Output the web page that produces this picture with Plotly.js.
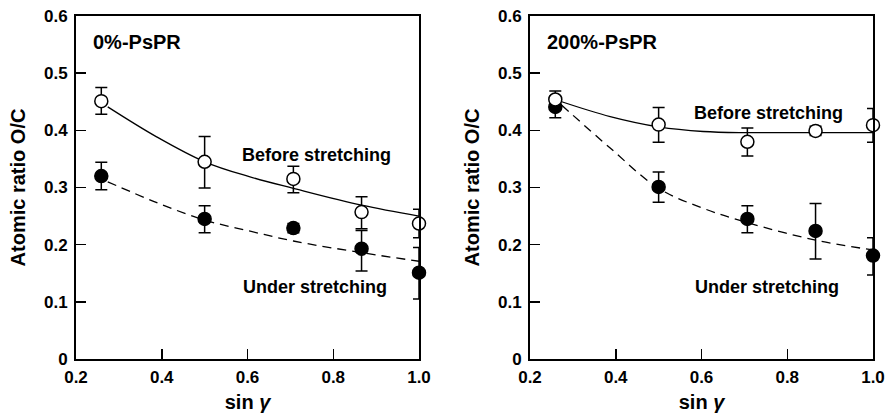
<!DOCTYPE html>
<html>
<head>
<meta charset="utf-8">
<script src="https://cdn.plot.ly/plotly-3.0.1.min.js"></script>
<style>html,body{margin:0;padding:0;background:#fff;}#chart{width:887px;height:418px;}</style>
</head>
<body>
<div id="chart"></div>
<script>
// sin(gamma) values for the five take-off angles
const sinGamma = [0.259, 0.5, 0.707, 0.866, 1.0];

// 0%-PsPR panel
const p0Before = [0.451, 0.345, 0.315, 0.257, 0.237];
const p0BeforeErrPlus = [0.024, 0.044, 0.022, 0.027, 0.025];
const p0BeforeErrMinus = [0.023, 0.046, 0.024, 0.029, 0.025];
const p0Under = [0.320, 0.245, 0.229, 0.193, 0.151];
const p0UnderErrPlus = [0.024, 0.023, 0.008, 0.032, 0.044];
const p0UnderErrMinus = [0.024, 0.024, 0.008, 0.039, 0.046];

// 200%-PsPR panel
const p200Before = [0.454, 0.410, 0.380, 0.399, 0.409];
const p200BeforeErrPlus = [0.015, 0.030, 0.024, 0.008, 0.029];
const p200BeforeErrMinus = [0.015, 0.031, 0.025, 0.008, 0.030];
const p200Under = [0.441, 0.301, 0.245, 0.224, 0.181];
const p200UnderErrPlus = [0.019, 0.026, 0.023, 0.048, 0.031];
const p200UnderErrMinus = [0.019, 0.027, 0.024, 0.049, 0.034];

// Fitted curves
const fitX = [0.274, 0.387, 0.5, 0.604, 0.707, 0.866, 1.0];
const p0BeforeFit = [0.441, 0.389, 0.345, 0.319, 0.2985, 0.269, 0.250];
const p0UnderFit = [0.310, 0.274, 0.243, 0.224, 0.2064, 0.186, 0.171];
const p200BeforeFit = [0.450, 0.424, 0.406, 0.398, 0.396, 0.396, 0.396];
const p200UnderFit = [0.444, 0.369, 0.2985, 0.2636, 0.2385, 0.208, 0.1907];

// Axis ticks
const xTickVals = [0.2, 0.4, 0.6, 0.8, 1.0];
const xTickText = ['0.2', '0.4', '0.6', '0.8', '1.0'];
const yTickVals = [0, 0.1, 0.2, 0.3, 0.4, 0.5, 0.6];
const yTickText = ['0', '0.1', '0.2', '0.3', '0.4', '0.5', '0.6'];

const FONT = 'Liberation Sans, Arial, Helvetica, sans-serif';

function errBar(plus, minus) {
  return {type: 'data', symmetric: false, array: plus, arrayminus: minus,
          color: '#000', thickness: 1.5, width: 6};
}
function fitTrace(y, dash, xa, ya) {
  return {x: fitX, y: y, xaxis: xa, yaxis: ya, mode: 'lines', type: 'scatter',
          line: {color: '#000', width: 1.3, dash: dash, shape: 'spline', smoothing: 1},
          hoverinfo: 'skip', cliponaxis: false, showlegend: false};
}
function pointTrace(y, plus, minus, filled, xa, ya) {
  return {x: sinGamma, y: y, xaxis: xa, yaxis: ya, mode: 'markers', type: 'scatter',
          marker: {size: 13, color: filled ? '#000' : '#fff', line: {color: '#000', width: 1.5}},
          error_y: errBar(plus, minus), cliponaxis: false, showlegend: false};
}

const DASH = '9px,6px';
const data = [
  fitTrace(p0BeforeFit, 'solid', 'x', 'y'),
  fitTrace(p0UnderFit, DASH, 'x', 'y'),
  pointTrace(p0Under, p0UnderErrPlus, p0UnderErrMinus, true, 'x', 'y'),
  pointTrace(p0Before, p0BeforeErrPlus, p0BeforeErrMinus, false, 'x', 'y'),
  fitTrace(p200BeforeFit, 'solid', 'x2', 'y2'),
  fitTrace(p200UnderFit, DASH, 'x2', 'y2'),
  pointTrace(p200Under, p200UnderErrPlus, p200UnderErrMinus, true, 'x2', 'y2'),
  pointTrace(p200Before, p200BeforeErrPlus, p200BeforeErrMinus, false, 'x2', 'y2')
];

function xAxis(domain, anchor) {
  return {domain: domain, anchor: anchor, range: [0.2, 1.0], tickmode: 'array',
          tickvals: xTickVals, ticktext: xTickText, ticks: 'inside', ticklen: 10, tickwidth: 1.5,
          tickcolor: '#000', showline: true, linecolor: '#000', linewidth: 2, mirror: true,
          showgrid: false, zeroline: false, ticklabelstandoff: 2,
          tickfont: {family: FONT, size: 17, color: '#000', weight: 'bold'},
          title: {text: 'sin <i>γ</i>', standoff: 9, font: {family: FONT, size: 20, color: '#000', weight: 'bold'}}};
}
function yAxis(domain, anchor) {
  return {domain: domain, anchor: anchor, range: [0, 0.6], tickmode: 'array',
          tickvals: yTickVals, ticktext: yTickText, ticks: 'inside', ticklen: 10, tickwidth: 1.5,
          tickcolor: '#000', showline: true, linecolor: '#000', linewidth: 2, mirror: true,
          showgrid: false, zeroline: false, ticklabelstandoff: 3,
          tickfont: {family: FONT, size: 17, color: '#000', weight: 'bold'},
          title: {text: 'Atomic ratio O/C', standoff: 13, font: {family: FONT, size: 20, color: '#000', weight: 'bold'}}};
}

const yDom = [(418 - 359) / 418, (418 - 16) / 418];
function ann(text, x, y, xref, yref, size, xanchor) {
  return {text: text, x: x, y: y, xref: xref, yref: yref, showarrow: false,
          xanchor: xanchor, yanchor: 'middle',
          font: {family: FONT, size: size, color: '#000', weight: 'bold'}};
}

const layout = {
  width: 887, height: 418,
  margin: {l: 0, r: 0, t: 0, b: 0},
  paper_bgcolor: '#fff', plot_bgcolor: '#fff',
  showlegend: false,
  xaxis: xAxis([76 / 887, 419 / 887], 'y'),
  yaxis: yAxis(yDom, 'x'),
  xaxis2: xAxis([530 / 887, 873 / 887], 'y2'),
  yaxis2: yAxis(yDom, 'x2'),
  annotations: [
    ann('0%-PsPR', 0.234, 0.555, 'x', 'y', 20, 'left'),
    ann('Before stretching', 0.762, 0.357, 'x', 'y', 18, 'center'),
    ann('Under stretching', 0.757, 0.126, 'x', 'y', 18, 'center'),
    ann('200%-PsPR', 0.236, 0.555, 'x2', 'y2', 20, 'left'),
    ann('Before stretching', 0.757, 0.431, 'x2', 'y2', 18, 'center'),
    ann('Under stretching', 0.753, 0.126, 'x2', 'y2', 18, 'center')
  ]
};

Plotly.newPlot('chart', data, layout, {staticPlot: true, displayModeBar: false});
</script>
</body>
</html>
